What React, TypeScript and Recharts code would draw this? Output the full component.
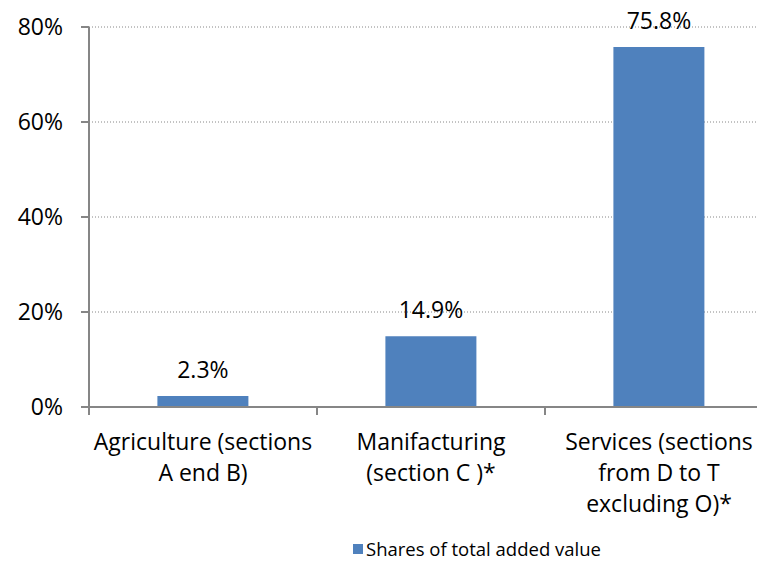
import { BarChart, Bar, XAxis, YAxis, CartesianGrid, Legend, LabelList } from 'recharts';

const categories = ['Agriculture (sections A end B)', 'Manifacturing (section C )*', 'Services (sections from D to T excluding O)*'];
const categoryLines = [
  ['Agriculture (sections', 'A end B)'],
  ['Manifacturing', '(section C )*'],
  ['Services (sections', 'from D to T', 'excluding O)*'],
];
const shares = [2.3, 14.9, 75.8];
const yTicks = [0, 20, 40, 60, 80];

const data = categories.map((name, i) => ({ name, share: shares[i] }));

const FONT = '"Open Sans", sans-serif';
const FS = 23;
const AXIS = '#868686';
const BAND = 228;

function CategoryTick(props: any) {
  const { x, y, index } = props;
  const lines = categoryLines[index] || [];
  return (
    <g>
      <line x1={x - BAND / 2} x2={x - BAND / 2} y1={y - 8} y2={y} stroke={AXIS} strokeWidth={2} />
      <text x={x} y={y} textAnchor="middle" fontSize={FS} fontFamily={FONT} fill="#000">
        {lines.map((l, i) => (
          <tspan key={i} x={x} dy={i === 0 ? 35 : 31}>{l}</tspan>
        ))}
      </text>
    </g>
  );
}

function LegendBox() {
  return (
    <div style={{ paddingLeft: 345, display: 'flex', alignItems: 'center', fontFamily: FONT, fontSize: 18.5, color: '#000' }}>
      <span style={{ display: 'inline-block', width: 10, height: 10, background: '#4F81BD', marginRight: 3 }} />
      <span>Shares of total added value</span>
    </div>
  );
}

export default function App() {
  return (
    <div style={{ width: 757, height: 565, marginTop: -8, overflow: 'hidden' }}>
      <BarChart width={770} height={565} data={data} margin={{ top: 27, right: 5, bottom: 5, left: 0 }} barCategoryGap="30%">
        <CartesianGrid vertical={false} stroke={AXIS} strokeDasharray="1 2" />
        <XAxis
          dataKey="name"
          height={129}
          interval={0}
          stroke={AXIS}
          strokeWidth={2}
          tickLine={false}
          tick={<CategoryTick />}
        />
        <YAxis
          domain={[0, 80]}
          ticks={yTicks}
          width={81}
          stroke={AXIS}
          strokeWidth={2}
          tickSize={8}
          tickMargin={18}
          tickFormatter={(v: number) => `${v}%`}
          tick={{ fill: '#000', fontSize: FS, fontFamily: FONT }}
        />
        <Legend verticalAlign="bottom" height={24} content={<LegendBox />} />
        <Bar dataKey="share" fill="#4F81BD" isAnimationActive={false}>
          <LabelList
            dataKey="share"
            position="top"
            offset={18}
            fill="#000"
            fontSize={FS}
            fontFamily={FONT}
            formatter={(v: any) => `${Number(v).toFixed(1)}%`}
          />
        </Bar>
      </BarChart>
    </div>
  );
}
